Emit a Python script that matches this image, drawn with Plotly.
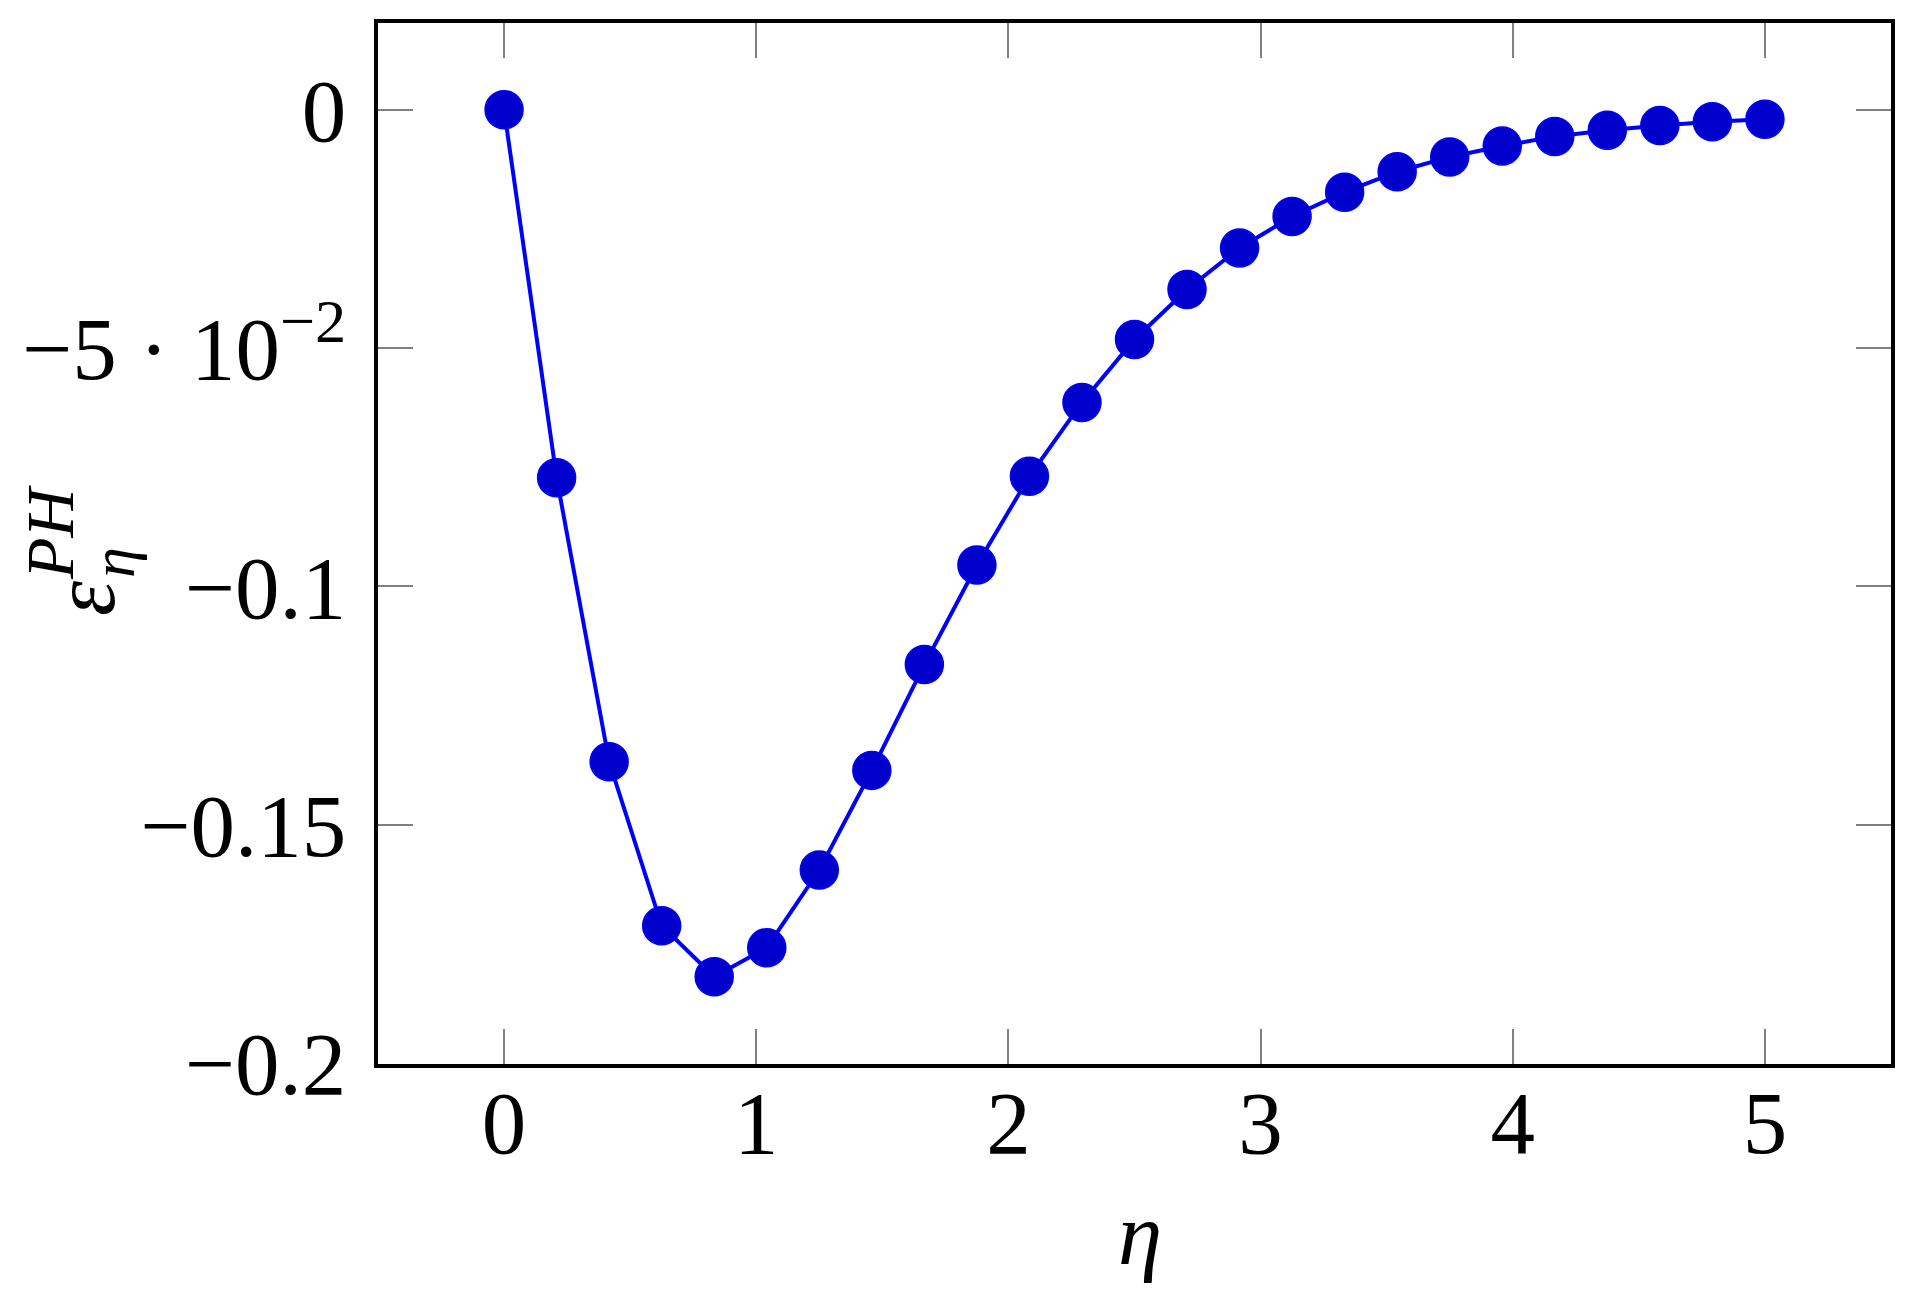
import plotly.graph_objects as go

# Data
eta = [i * 5 / 24 for i in range(25)]
eps = [0.0, -0.0772, -0.1368, -0.1712, -0.1819, -0.1758, -0.1595, -0.1386,
       -0.1164, -0.0955, -0.0769, -0.0614, -0.0482, -0.0377, -0.0290,
       -0.0224, -0.0173, -0.0130, -0.0099, -0.0076, -0.0056, -0.0043,
       -0.0033, -0.0025, -0.0020]

x_ticks = [0, 1, 2, 3, 4, 5]
x_ticktext = ["0", "1", "2", "3", "4", "5"]
y_ticks = [0, -0.05, -0.1, -0.15, -0.2]
y_ticktext = ["0", "−5 · 10<sup>−2</sup>", "−0.1", "−0.15", "−0.2"]

FONT = "Liberation Serif"
FS = 89

fig = go.Figure()
fig.add_trace(go.Scatter(
    x=eta, y=eps, mode="lines+markers",
    line=dict(color="#0000ff", width=4),
    marker=dict(symbol="circle", size=38, color="#0000cc",
                line=dict(color="#0000ff", width=1.5)),
    showlegend=False,
))

axis_common = dict(
    showline=True, linecolor="black", linewidth=4, mirror="allticks",
    ticks="inside", ticklen=35, tickwidth=2, tickcolor="#808080",
    showgrid=False, zeroline=False,
    tickfont=dict(family=FONT, size=FS, color="black"),
)

fig.update_xaxes(range=[-0.5, 5.5], tickvals=x_ticks, ticktext=x_ticktext,
                 ticklabelstandoff=-22, **axis_common)
fig.update_yaxes(range=[-0.2002, 0.0182], tickvals=y_ticks, ticktext=y_ticktext,
                 ticklabelstandoff=10, **axis_common)

W0, H0 = 1913, 1293
L, R, T, B = 370, 30, 15, 237
pw, ph = W0 - L - R, H0 - T - B

def px2paper(px, py):
    return (px - L) / pw, (H0 - B - py) / ph

annots = []
# x axis title
ax_, ay_ = px2paper(1132, 1226)
annots.append(dict(text="<i>η</i>", x=ax_, y=ay_, xref="paper", yref="paper",
                   showarrow=False, xanchor="center", yanchor="middle",
                   font=dict(family=FONT, size=FS, color="black")))
# y axis title parts (rotated)
ex, ey = px2paper(76, 591)
annots.append(dict(text="<i>ε</i>", x=ex, y=ey, xref="paper", yref="paper",
                   showarrow=False, xanchor="center", yanchor="middle", textangle=-90,
                   font=dict(family=FONT, size=FS, color="black")))
sx, sy = px2paper(105, 555)
annots.append(dict(text="<i>η</i>", x=sx, y=sy, xref="paper", yref="paper",
                   showarrow=False, xanchor="center", yanchor="middle", textangle=-90,
                   font=dict(family=FONT, size=62, color="black")))
px_, py_ = px2paper(42, 524)
annots.append(dict(text="<i>PH</i>", x=px_, y=py_, xref="paper", yref="paper",
                   showarrow=False, xanchor="center", yanchor="middle", textangle=-90,
                   font=dict(family=FONT, size=68, color="black")))

fig.update_layout(
    width=W0, height=H0,
    margin=dict(l=L, r=R, t=T, b=B, pad=0),
    paper_bgcolor="white", plot_bgcolor="white",
    annotations=annots,
)

fig.write_html("out.html")
